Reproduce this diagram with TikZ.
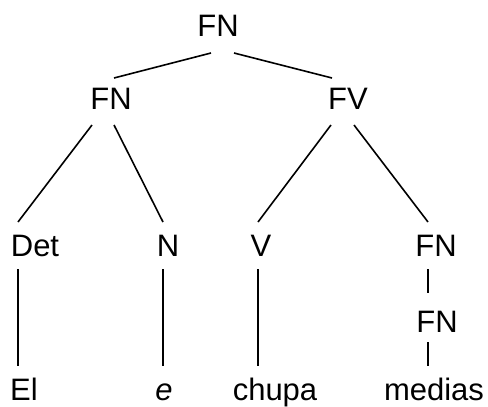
\documentclass[tikz,border=0pt]{standalone}
\usepackage{fontspec}
\setmainfont{Liberation Sans}
\begin{document}
\begin{tikzpicture}[x=1pt,y=-1pt,
  cat/.style={anchor=base,inner sep=0pt,font=\fontsize{31}{37}\selectfont},
  branch/.style={line width=1.6pt,line cap=butt}]
\useasboundingbox (0,0) rectangle (488,407);
% categories
\node[cat] (top)   at (218,36)  {FN};
\node[cat] (fnl)   at (111,109) {FN};
\node[cat] (fv)    at (348,109) {FV};
\node[cat] (det)   at (35,256)  {Det};
\node[cat] (n)     at (168,256) {N};
\node[cat] (v)     at (261,256) {V};
\node[cat] (fnr)   at (436,256) {FN};
\node[cat] (fnr2)  at (437,332) {FN};
% words
\node[cat] (el)     at (24,400)  {El};
\node[cat] (e)      at (164,400) {\itshape e};
\node[cat] (chupa)  at (275,400) {chupa};
\node[cat] (medias) at (434,400) {medias};
% branches
\draw[branch] ([shift={(-7,17)}]top.base) -- ([shift={(3,-31)}]fnl.base);
\draw[branch] ([shift={(16,17)}]top.base) -- ([shift={(-16,-31)}]fv.base);
\draw[branch] ([shift={(-19,16)}]fnl.base) -- ([shift={(-17,-34)}]det.base);
\draw[branch] ([shift={(3,16)}]fnl.base) -- ([shift={(-5,-34)}]n.base);
\draw[branch] ([shift={(-17,16)}]fv.base) -- ([shift={(-3,-34)}]v.base);
\draw[branch] ([shift={(6,16)}]fv.base) -- ([shift={(-8,-34)}]fnr.base);
\draw[branch] ([shift={(-17,13)}]det.base) -- ([shift={(-6,-34)}]el.base);
\draw[branch] ([shift={(-5,13)}]n.base) -- ([shift={(-1,-34)}]e.base);
\draw[branch] ([shift={(-3,13)}]v.base) -- ([shift={(-17,-34)}]chupa.base);
\draw[branch] ([shift={(-8,13)}]fnr.base) -- ([shift={(-9,-39)}]fnr2.base);
\draw[branch] ([shift={(-9,10)}]fnr2.base) -- ([shift={(-6,-34)}]medias.base);
\end{tikzpicture}
\end{document}
